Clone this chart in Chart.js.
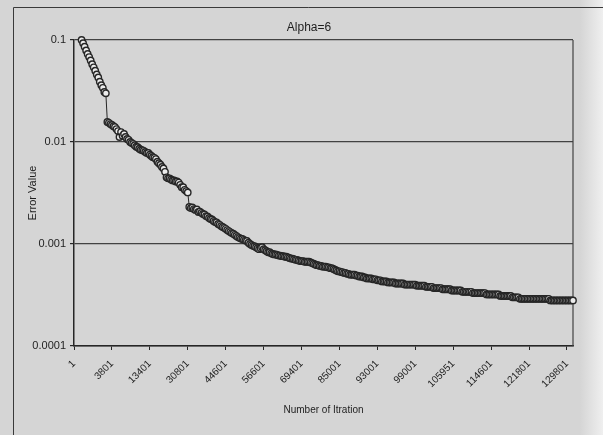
<!DOCTYPE html>
<html>
<head>
<meta charset="utf-8">
<title>Alpha=6</title>
<script src="https://cdn.jsdelivr.net/npm/chart.js@4.4.1/dist/chart.umd.min.js"></script>
<style>
  html, body { margin: 0; padding: 0; background: #d5d5d5; }
  #wrap { width: 603px; height: 435px; }
</style>
</head>
<body>
<div id="wrap"><canvas id="chart" width="603" height="435"></canvas></div>
<script>
// iteration numbers shown under the axis, one every 25 samples
const tickLabels = ['1', '3801', '13401', '30801', '44601', '56601', '69401',
    '85001', '93001', '99001', '105951', '114601', '121801', '129801'];
const labelStep = 25;
const yTicks = [0.0001, 0.001, 0.01, 0.1];

// error value per sample (first samples sit above 0.1, off the chart)
const errorValues = [
    null, null, null, null, null, 0.1, 0.093, 0.086, 0.079, 0.073,
    0.068, 0.063, 0.058, 0.054, 0.05, 0.046, 0.043, 0.039, 0.036, 0.034,
    0.031, 0.03, 0.0157, 0.0154, 0.015, 0.0147, 0.0143, 0.014, 0.0134, 0.0128,
    0.0112, 0.0125, 0.0115, 0.012, 0.0112, 0.0107, 0.0105, 0.01, 0.0098, 0.0096,
    0.0093, 0.009, 0.0089, 0.0086, 0.0084, 0.0083, 0.0082, 0.008, 0.0078, 0.0078,
    0.0075, 0.0073, 0.0071, 0.007, 0.0068, 0.0064, 0.0062, 0.006, 0.0057, 0.0055,
    0.0051, 0.0045, 0.0044, 0.0044, 0.0043, 0.0042, 0.0042, 0.0041, 0.0041, 0.004,
    0.0038, 0.0036, 0.0036, 0.0034, 0.0033, 0.0032, 0.00231, 0.00225, 0.00228, 0.0022,
    0.00216, 0.00218, 0.00206, 0.00208, 0.00202, 0.00197, 0.00195, 0.00188, 0.00186, 0.0018,
    0.00176, 0.00174, 0.00168, 0.00164, 0.00163, 0.00157, 0.00154, 0.0015, 0.00147, 0.00144,
    0.00141, 0.00137, 0.00134, 0.00131, 0.00128, 0.00126, 0.00123, 0.0012, 0.00117, 0.00115,
    0.00113, 0.00112, 0.0011, 0.00108, 0.00107, 0.00103, 0.001, 0.00098, 0.00096, 0.00095,
    0.00093, 0.00091, 0.00089, 0.00091, 0.00093, 0.00089, 0.00087, 0.00085, 0.00083, 0.00083,
    0.00081, 0.0008, 0.00079, 0.00079, 0.00078, 0.00077, 0.00077, 0.00076, 0.00076, 0.00075,
    0.00075, 0.00074, 0.00073, 0.00072, 0.00072, 0.00071, 0.0007, 0.0007, 0.00069, 0.00068,
    0.00068, 0.00068, 0.00067, 0.00067, 0.00067, 0.00067, 0.00066, 0.00065, 0.00064, 0.00063,
    0.00062, 0.00062, 0.00061, 0.00061, 0.0006, 0.0006, 0.0006, 0.00059, 0.00059, 0.00058,
    0.00058, 0.00057, 0.00056, 0.00055, 0.00054, 0.00054, 0.00053, 0.00053, 0.00052, 0.00052,
    0.00051, 0.00051, 0.0005, 0.0005, 0.0005, 0.0005, 0.00049, 0.00049, 0.00048, 0.00048,
    0.00048, 0.00047, 0.00047, 0.00046, 0.00046, 0.00046, 0.00046, 0.00045, 0.00045, 0.00045,
    0.00044, 0.00044, 0.00044, 0.00043, 0.00043, 0.00043, 0.00043, 0.00042, 0.00042, 0.00042,
    0.00042, 0.00042, 0.00041, 0.00041, 0.00041, 0.00041, 0.00041, 0.00041, 0.0004, 0.0004,
    0.0004, 0.0004, 0.0004, 0.0004, 0.0004, 0.0004, 0.00039, 0.00039, 0.00039, 0.00039,
    0.00039, 0.00039, 0.00038, 0.00038, 0.00038, 0.00038, 0.00038, 0.00037, 0.00037, 0.00037,
    0.00037, 0.00037, 0.00037, 0.00036, 0.00036, 0.00036, 0.00036, 0.00036, 0.00036, 0.00035,
    0.00035, 0.00035, 0.00035, 0.00035, 0.00035, 0.00035, 0.00034, 0.00034, 0.00034, 0.00034,
    0.00034, 0.00034, 0.00034, 0.00033, 0.00033, 0.00033, 0.00033, 0.00033, 0.00033, 0.00033,
    0.00033, 0.00033, 0.00032, 0.00032, 0.00032, 0.00032, 0.00032, 0.00032, 0.00032, 0.00032,
    0.00032, 0.00031, 0.00031, 0.00031, 0.00031, 0.00031, 0.00031, 0.00031, 0.00031, 0.0003,
    0.0003, 0.0003, 0.0003, 0.0003, 0.00029, 0.00029, 0.00029, 0.00029, 0.00029, 0.00029,
    0.00029, 0.00029, 0.00029, 0.00029, 0.00029, 0.00029, 0.00029, 0.00029, 0.00029, 0.00029,
    0.00029, 0.00029, 0.00029, 0.00029, 0.00028, 0.00028, 0.00028, 0.00028, 0.00028, 0.00028,
    0.00028, 0.00028, 0.00028, 0.00028, 0.00028, 0.00028, 0.00028, 0.00028, 0.00028, 0.00028
];

const ink = '#262626';
const gridInk = '#424242';
const textInk = '#1e1e1e';
const family = '"Liberation Sans", Arial, sans-serif';

// page frame, grey paper and the title
const frame = {
    id: 'frame',
    beforeDraw(chart) {
        const { ctx, width, height } = chart;
        ctx.save();
        ctx.fillStyle = '#d5d5d5';
        ctx.fillRect(0, 0, width, height);
        const g = ctx.createLinearGradient(580, 0, width, 0);
        g.addColorStop(0, '#d5d5d5');
        g.addColorStop(1, '#efefef');
        ctx.fillStyle = g;
        ctx.fillRect(580, 0, width - 580, height);
        ctx.strokeStyle = '#3a3a3a';
        ctx.lineWidth = 1;
        ctx.beginPath();
        ctx.moveTo(13.5, height);
        ctx.lineTo(13.5, 7.5);
        ctx.lineTo(width, 7.5);
        ctx.stroke();
        ctx.restore();
    },
    beforeDatasetsDraw(chart) {
        const { ctx, chartArea: a } = chart;
        ctx.save();
        ctx.strokeStyle = gridInk;
        ctx.lineWidth = 1.2;
        ctx.beginPath();
        ctx.moveTo(a.right, a.top);
        ctx.lineTo(a.right, a.bottom);
        ctx.stroke();
        ctx.restore();
    },
    afterDraw(chart) {
        const { ctx } = chart;
        ctx.save();
        ctx.fillStyle = textInk;
        ctx.font = '12px ' + family;
        ctx.textAlign = 'center';
        ctx.textBaseline = 'middle';
        ctx.fillText('Alpha=6', 309, 28);
        ctx.restore();
    }
};

new Chart(document.getElementById('chart'), {
    type: 'line',
    data: {
        datasets: [{
            data: errorValues.map((v, i) => ({ x: i, y: v })),
            borderColor: ink,
            borderWidth: 1,
            pointRadius: 3.2,
            pointBorderWidth: 1.4,
            pointBackgroundColor: '#ececec',
            pointBorderColor: ink,
            tension: 0,
            clip: false
        }]
    },
    options: {
        responsive: false,
        animation: false,
        layout: { padding: { top: 40, left: 22, right: 30, bottom: 15 } },
        plugins: { legend: { display: false }, tooltip: { enabled: false } },
        scales: {
            x: {
                type: 'linear',
                min: 0,
                max: errorValues.length - 1,
                afterBuildTicks: (s) => { s.ticks = tickLabels.map((_, j) => ({ value: j * labelStep })); },
                afterFit: (s) => { s.height = 74; },
                ticks: {
                    autoSkip: false,
                    minRotation: 45,
                    maxRotation: 45,
                    padding: 8,
                    color: textInk,
                    font: { size: 10, family },
                    callback: (v) => tickLabels[v / labelStep]
                },
                grid: { drawOnChartArea: false, tickLength: 4, tickColor: ink, color: ink },
                border: { color: ink, width: 1.5 },
                title: { display: true, text: 'Number of Itration', color: textInk, font: { size: 10, family } }
            },
            y: {
                type: 'logarithmic',
                min: 0.0001,
                max: 0.1,
                afterBuildTicks: (s) => { s.ticks = yTicks.map((v) => ({ value: v })); },
                afterFit: (s) => { s.width = 52; },
                ticks: {
                    padding: 4,
                    color: textInk,
                    font: { size: 11, family },
                    callback: (v) => String(v)
                },
                grid: { color: gridInk, lineWidth: 1.2, tickLength: 4, tickColor: ink },
                border: { color: ink, width: 1.5 },
                title: { display: true, text: 'Error Value', color: textInk, font: { size: 11, family } }
            }
        }
    },
    plugins: [frame]
});
</script>
</body>
</html>
